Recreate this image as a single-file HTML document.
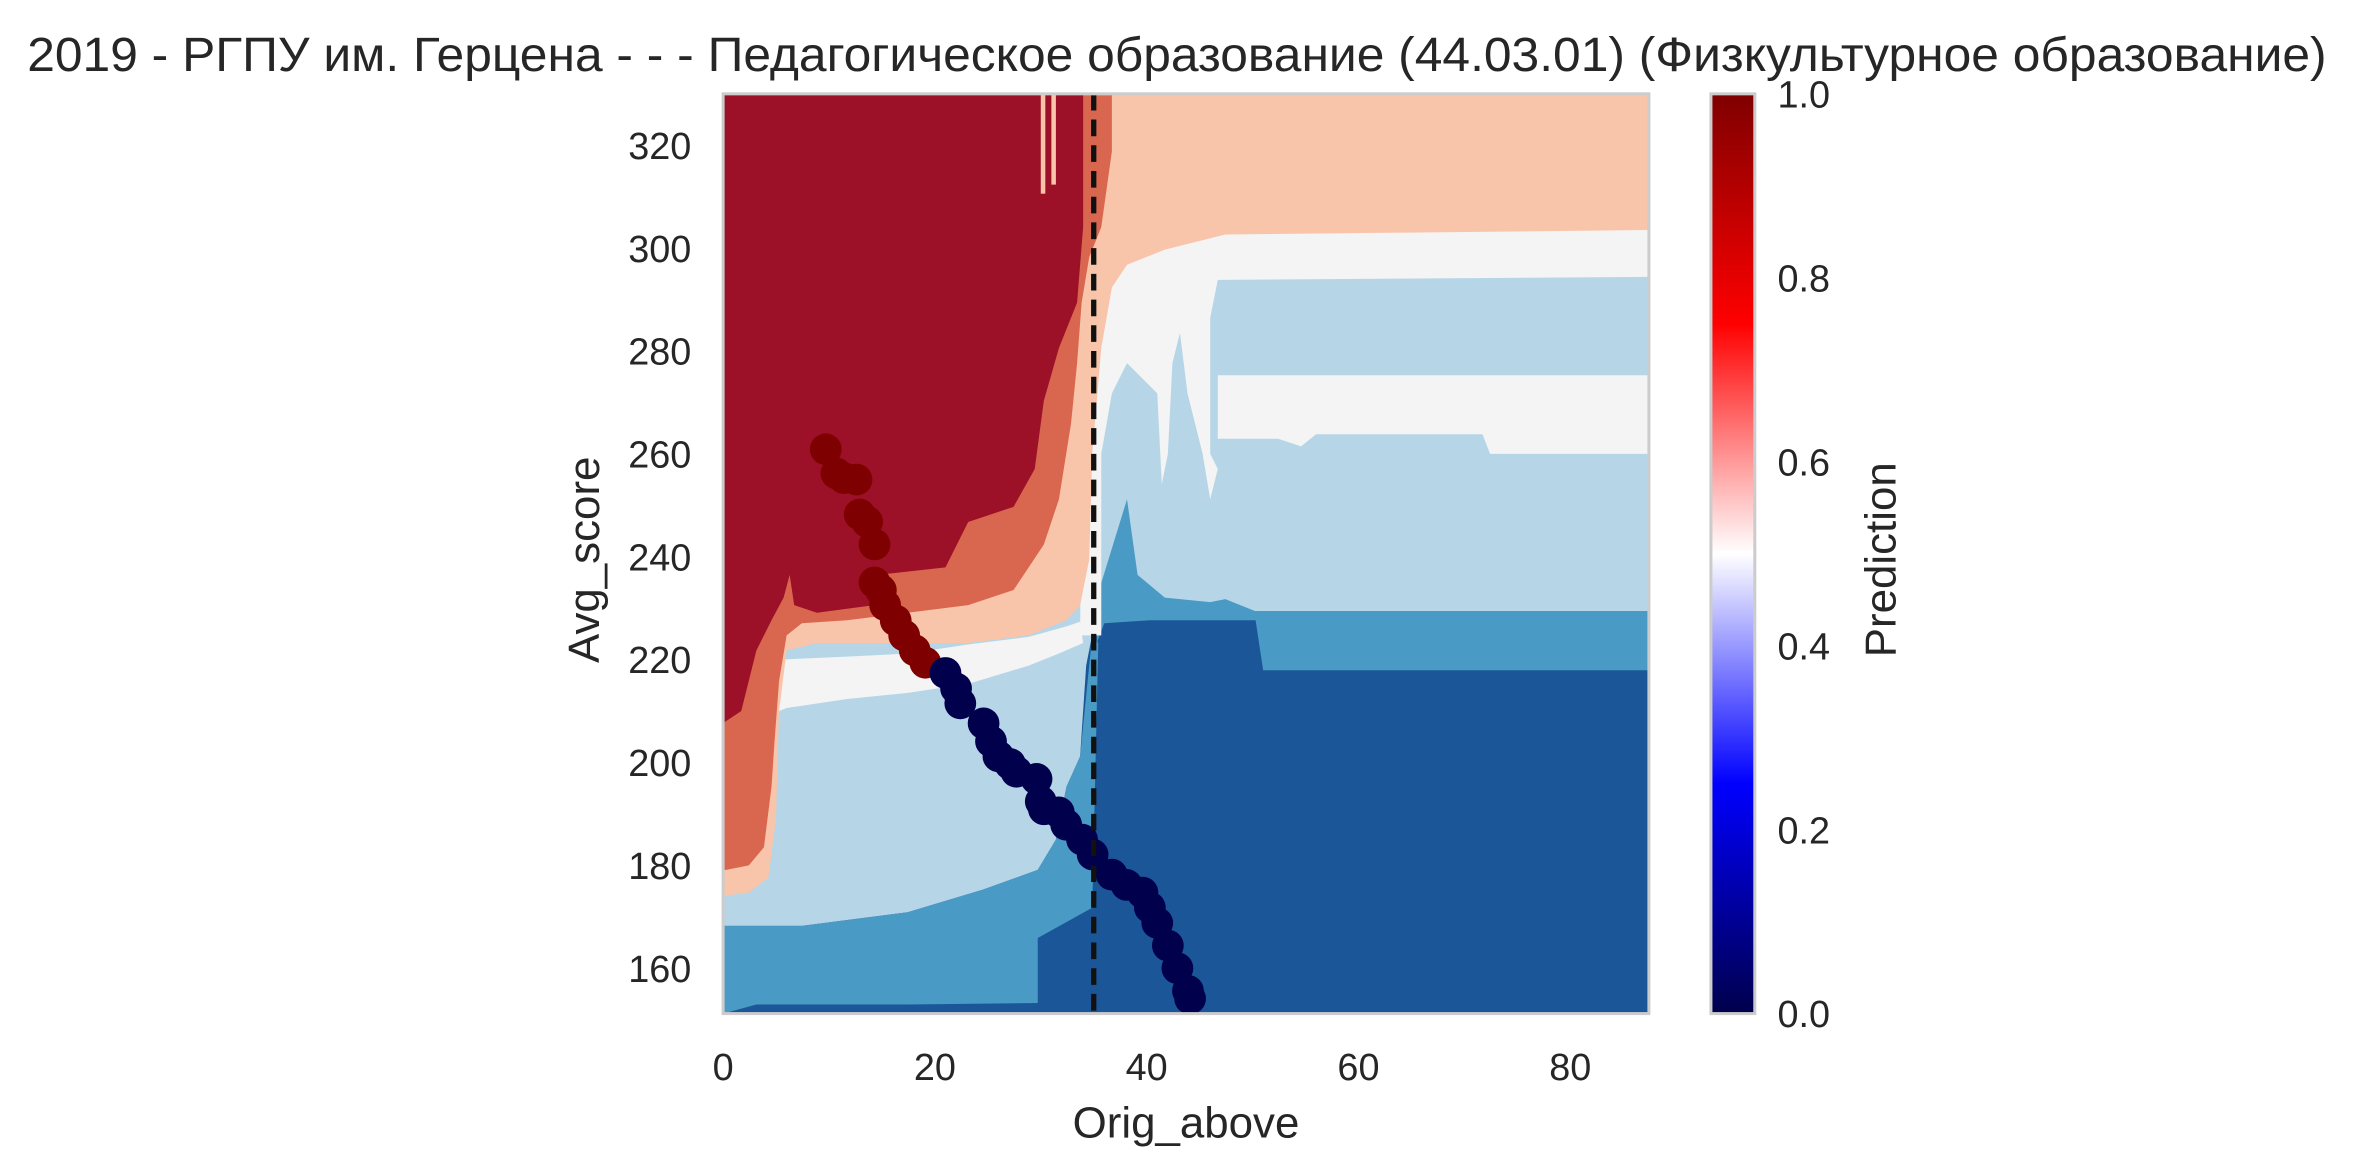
<!DOCTYPE html>
<html><head><meta charset="utf-8"><style>
html,body{margin:0;padding:0;background:#fff;}
svg{display:block;font-family:"Liberation Sans","DejaVu Sans",sans-serif;}
</style></head><body>
<svg id="chart" width="2372" height="1174" viewBox="0 0 1568 776" xmlns="http://www.w3.org/2000/svg">
<defs>
<linearGradient id="seis" x1="0" y1="0" x2="0" y2="1">
<stop offset="0" stop-color="#7f0000"/><stop offset="0.25" stop-color="#ff0000"/><stop offset="0.5" stop-color="#ffffff"/><stop offset="0.75" stop-color="#0000ff"/><stop offset="1" stop-color="#00004c"/>
</linearGradient>
<clipPath id="pc"><rect x="478" y="62" width="612" height="608"/></clipPath>
</defs>
<text x="778" y="47" font-size="32" text-anchor="middle" fill="#262626" textLength="1520" lengthAdjust="spacingAndGlyphs">2019 - РГПУ им. Герцена - - - Педагогическое образование (44.03.01) (Физкультурное образование)</text>
<g id="contours" clip-path="url(#pc)">
<rect x="478" y="62" width="612" height="608" fill="#1b5798"/>
<polygon fill="#b6d6e8" points="478,62 1090,62 1090,404 725,404 718,440 714,500 705,520 698,555 686,575 650,588 600,603 530,612 478,612"/>
<polygon fill="#4a9ac6" points="725,395 745,330 752,380 770,395 800,398 810,396 830,404 1090,404 1090,443 835,443 830,410 800,410 760,410 730,412 725,425"/>
<polygon fill="#4a9ac6" points="478,612 530,612 600,603 650,588 686,575 698,555 705,520 714,500 718,460 722,420 726,425 722,600 686,620 686,663 600,664 500,664 478,670"/>
<polygon fill="#f4f4f4" points="735,175 745,165 770,155 810,152 1090,152 1090,183 805,185 800,210 800,300 805,310 800,330 795,300 785,260 780,220 775,240 772,300 768,320 765,260 755,250 745,240 735,260 728,300 725,240 730,200"/>
<polygon fill="#f4f4f4" points="805,248 1090,248 1090,300 985,300 980,287 870,287 860,295 845,290 805,290"/>
<polygon fill="#f4f4f4" points="716,150 728,150 728,420 714,420"/>
<polygon fill="#f4f4f4" points="515,436 560,434 600,432 640,426 680,421 705,414 714,411 716,425 700,432 680,440 640,452 600,458 560,462 520,468 515,470"/>
<polygon fill="#f4f4f4" points="540,375 600,372 630,373 630,388 540,392"/>
<polygon fill="#f8c4aa" points="478,62 1090,62 1090,152 810,155 770,165 745,175 735,190 728,230 722,300 720,370 714,400 705,410 680,420 640,425 580,425 540,425 520,430 515,470 513,540 508,580 495,590 480,592 478,592"/>
<polygon fill="#d9664f" points="478,62 735,62 735,100 728,150 720,170 715,200 712,240 708,280 700,330 690,360 670,390 640,400 600,405 560,410 530,412 520,420 515,450 512,490 510,520 505,560 495,572 480,575 478,575"/>
<polygon fill="#9c1127" points="478,62 716,62 716,150 712,200 700,230 690,265 684,310 670,335 640,345 625,375 580,380 578,400 540,405 525,400 522,380 518,395 510,410 500,430 490,470 478,478"/>
<rect x="688" y="62" width="3" height="66" fill="#f8c4aa"/>
<rect x="695" y="62" width="3" height="60" fill="#f8c4aa"/>
</g>
<g id="scatter" clip-path="url(#pc)"></g>
<line id="thr" y1="62" y2="670" stroke="#111" stroke-width="3.5" stroke-dasharray="11,6"/>
<rect x="478" y="62" width="612" height="608" fill="none" stroke="#cccccc" stroke-width="2"/>
<g id="xticks" font-size="25" fill="#262626" text-anchor="middle"></g>
<g id="yticks" font-size="25" fill="#262626" text-anchor="end"></g>
<text x="784" y="752" font-size="29" text-anchor="middle" fill="#262626">Orig_above</text>
<text transform="translate(396,370) rotate(-90)" font-size="29" text-anchor="middle" fill="#262626">Avg_score</text>
<rect x="1131" y="62" width="29" height="608" fill="url(#seis)" stroke="#cccccc" stroke-width="2"/>
<g id="cticks" font-size="25" fill="#262626"></g>
<text transform="translate(1253,370) rotate(-90)" font-size="29" text-anchor="middle" fill="#262626">Prediction</text>
</svg>
<script>
const xTicks=[0,20,40,60,80];
const yTicks=[160,180,200,220,240,260,280,300,320];
const cTicks=[0.0,0.2,0.4,0.6,0.8,1.0];
const threshold=35;
const ptX=[9.7,10.7,11.4,12.6,12.9,13.6,14.3,14.3,14.9,15.3,16.3,17.1,18.1,19.1,21.0,22.0,22.4,24.6,25.3,26.0,27.1,27.7,29.6,30.0,30.3,31.7,32.4,33.9,34.9,36.7,38.1,39.6,40.3,41.0,42.0,42.9,43.9,44.1];
const ptY=[260.9,256.2,255.3,255.0,248.2,246.8,242.4,235.0,233.5,230.6,227.6,224.7,221.8,219.4,217.4,214.4,211.5,207.6,204.1,201.2,199.7,198.2,196.8,192.4,190.9,190.3,187.9,185.0,182.1,178.2,176.2,174.7,171.8,168.8,164.4,160.0,155.6,154.1];
const ptP=[1,1,1,1,1,1,1,1,1,1,1,1,1,1,0,0,0,0,0,0,0,0,0,0,0,0,0,0,0,0,0,0,0,0,0,0,0,0];
const NS='http://www.w3.org/2000/svg';
function xS(v){return 478+7*v;}
function yS(v){return 96+(320-v)*3.4;}
function cS(v){return 670-608*v;}
function seis(p){return p>=0.5?'#7f0000':'#00004c';}
const xg=document.getElementById('xticks');
xTicks.forEach(t=>{const e=document.createElementNS(NS,'text');


e.setAttribute('x',xS(t));e.setAttribute('y',714);e.textContent=t;xg.appendChild(e);});
const yg=document.getElementById('yticks');
yTicks.forEach(t=>{const e=document.createElementNS(NS,'text');


e.setAttribute('x',457);e.setAttribute('y',yS(t)+9);e.textContent=t;yg.appendChild(e);});
const cg=document.getElementById('cticks');
cTicks.forEach(t=>{const e=document.createElementNS(NS,'text');


e.setAttribute('x',1175);e.setAttribute('y',cS(t)+9);e.textContent=t.toFixed(1);cg.appendChild(e);});
const sg=document.getElementById('scatter');
ptX.forEach((x,i)=>{const c=document.createElementNS(NS,'circle');


c.setAttribute('cx',xS(x));c.setAttribute('cy',yS(ptY[i]));c.setAttribute('r',10.5);c.setAttribute('fill',seis(ptP[i]));sg.appendChild(c);});
const th=document.getElementById('thr');th.setAttribute('x1',xS(threshold));th.setAttribute('x2',xS(threshold));
</script>
</body></html>
